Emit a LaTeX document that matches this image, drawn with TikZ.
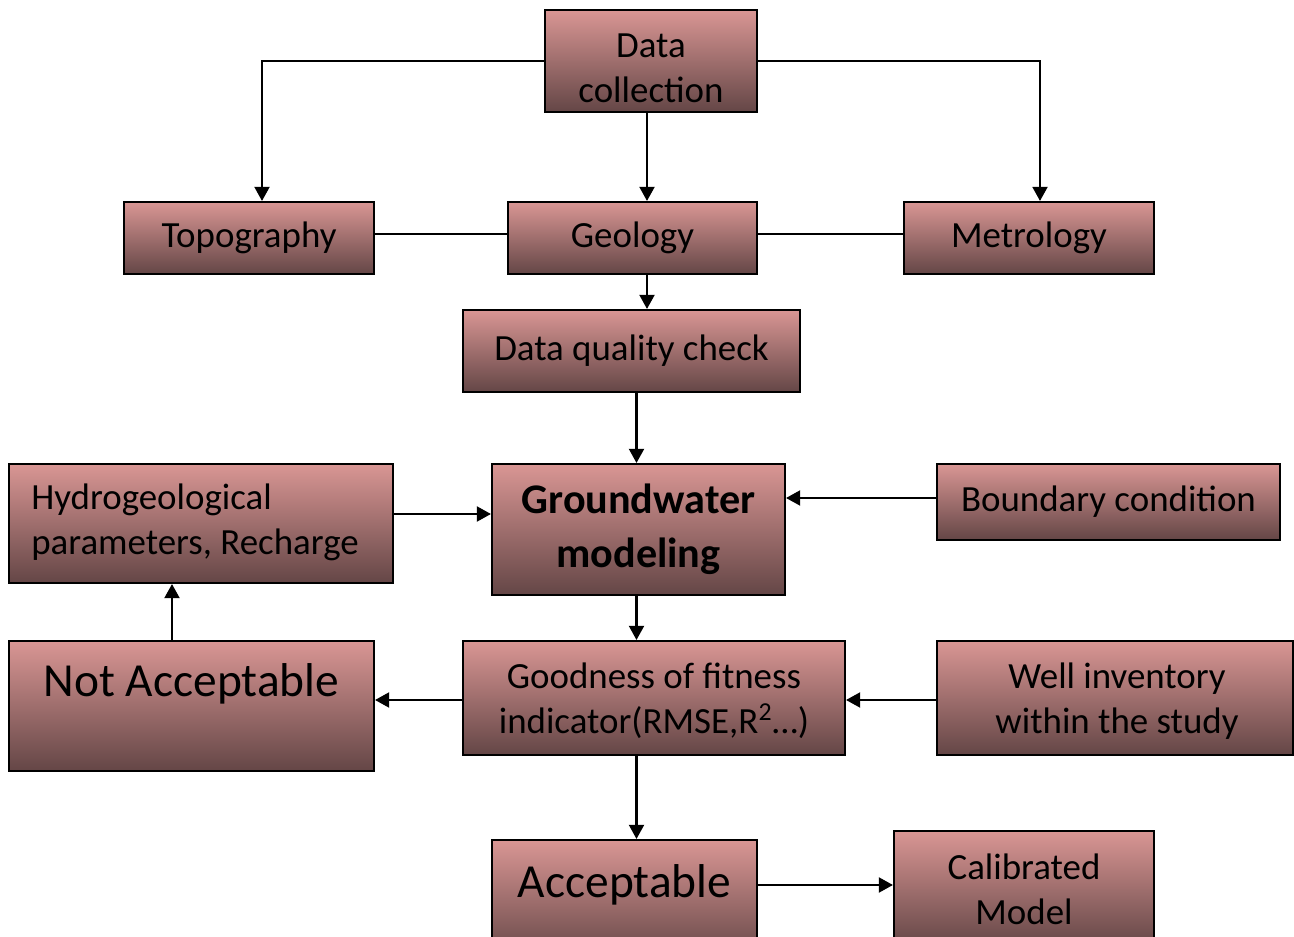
\documentclass[tikz,border=0pt]{standalone}
\usepackage{fontspec}
\setmainfont{Carlito}
\usetikzlibrary{arrows.meta}
\definecolor{boxtop}{RGB}{217,150,148}
\definecolor{boxmid}{RGB}{184,122,120}
\definecolor{boxbot}{RGB}{100,70,70}
\tikzset{
  box/.style={draw=black, line width=1.2pt, top color=boxtop, middle color=boxmid, bottom color=boxbot,
    inner sep=0pt, align=center, font=\fontsize{21}{25.5}\selectfont},
  arr/.style={line width=1.2pt, -{Triangle[length=8pt,width=8.5pt]}},
  link/.style={line width=1.2pt},
  boxtext/.style={align=center, font=\fontsize{21}{25.5}\selectfont, inner sep=0pt},
  bigtext/.style={font=\fontsize{27}{32}\selectfont, inner sep=0pt}
}
\begin{document}
\begin{tikzpicture}
    \useasboundingbox (0,0) rectangle (25.88,-18.74);
    \node [box, minimum width=4.24cm, minimum height=2.04cm] (datacoll) at (13.02,-1.22) {};
    \node [boxtext] (datacolltext) at (13.02,-1.36) {Data\\collection};
    \node [box, minimum width=5.00cm, minimum height=1.44cm] (topo) at (4.98,-4.76) {Topography};
    \node [box, minimum width=4.98cm, minimum height=1.44cm] (geology) at (12.65,-4.76) {Geology};
    \node [box, minimum width=5.00cm, minimum height=1.44cm] (metro) at (20.58,-4.76) {Metrology};
    \node [box, minimum width=6.74cm, minimum height=1.64cm] (dqc) at (12.63,-7.02) {Data quality check};
    \node [box, minimum width=5.86cm, minimum height=2.62cm, font=\fontsize{24}{30.5}\selectfont\bfseries] (gwmodel) at (12.77,-10.59) {Groundwater\\modeling};
    \node [box, minimum width=7.68cm, minimum height=2.38cm] (hydro) at (4.02,-10.47) {};
    \node [boxtext, align=left, anchor=west] (hydrotext) at (0.62,-10.44) {Hydrogeological\\parameters, Recharge};
    \node [box, minimum width=6.86cm, minimum height=1.52cm] (boundary) at (22.17,-10.04) {Boundary condition};
    \node [box, minimum width=7.30cm, minimum height=2.60cm] (notacc) at (3.83,-14.12) {};
    \node [bigtext] (notacctext) at (3.83,-13.68) {Not Acceptable};
    \node [box, minimum width=7.64cm, minimum height=2.28cm] (fitness) at (13.08,-13.96) {};
    \node [boxtext] (fitnesstext) at (13.08,-14.02) {Goodness of fitness\\indicator(RMSE,R\textsuperscript{2}…)};
    \node [box, minimum width=7.12cm, minimum height=2.28cm] (wells) at (22.30,-13.96) {};
    \node [boxtext] (wellstext) at (22.34,-14.02) {Well inventory\\within the study};
    \node [box, minimum width=5.30cm, minimum height=2.40cm] (accept) at (12.49,-18.00) {};
    \node [bigtext] (accepttext) at (12.49,-17.70) {Acceptable};
    \node [box, minimum width=5.20cm, minimum height=2.32cm] (calib) at (20.48,-17.78) {Calibrated\\Model};
    \draw [arr] (datacoll.west) -| ([xshift=0.26cm]topo.north);
    \draw [arr] (datacoll.east) -| ([xshift=0.22cm]metro.north);
    \draw [arr] ([xshift=-0.08cm]datacoll.south) -- ([xshift=-0.08cm]datacoll.south |- geology.north);
    \draw [link] ([yshift=0.08cm]topo.east) -- ([yshift=0.08cm]geology.west);
    \draw [link] ([yshift=0.08cm]geology.east) -- ([yshift=0.08cm]metro.west);
    \draw [arr] ([xshift=-0.08cm]datacoll.south |- geology.south) -- ([xshift=-0.08cm]datacoll.south |- dqc.north);
    \draw [arr] ([xshift=-0.04cm]gwmodel.north |- dqc.south) -- ([xshift=-0.04cm]gwmodel.north);
    \draw [arr] ([yshift=0.19cm]hydro.east) -- ([yshift=0.19cm]hydro.east -| gwmodel.west);
    \draw [arr] ([yshift=0.08cm]boundary.west) -- ([yshift=0.08cm]boundary.west -| gwmodel.east);
    \draw [arr] ([xshift=-0.04cm]gwmodel.south) -- ([xshift=-0.04cm]gwmodel.south |- fitness.north);
    \draw [arr] ([yshift=-0.04cm]fitness.west) -- ([yshift=-0.04cm]fitness.west -| notacc.east);
    \draw [arr] ([yshift=-0.04cm]wells.west) -- ([yshift=-0.04cm]wells.west -| fitness.east);
    \draw [arr] ([xshift=-0.39cm]notacc.north) -- ([xshift=-0.39cm]notacc.north |- hydro.south);
    \draw [arr] ([xshift=-0.04cm]gwmodel.south |- fitness.south) -- ([xshift=-0.04cm]gwmodel.south |- accept.north);
    \draw [arr] (accepttext.east -| accept.east) -- (accepttext.east -| calib.west);
\end{tikzpicture}
\end{document}
